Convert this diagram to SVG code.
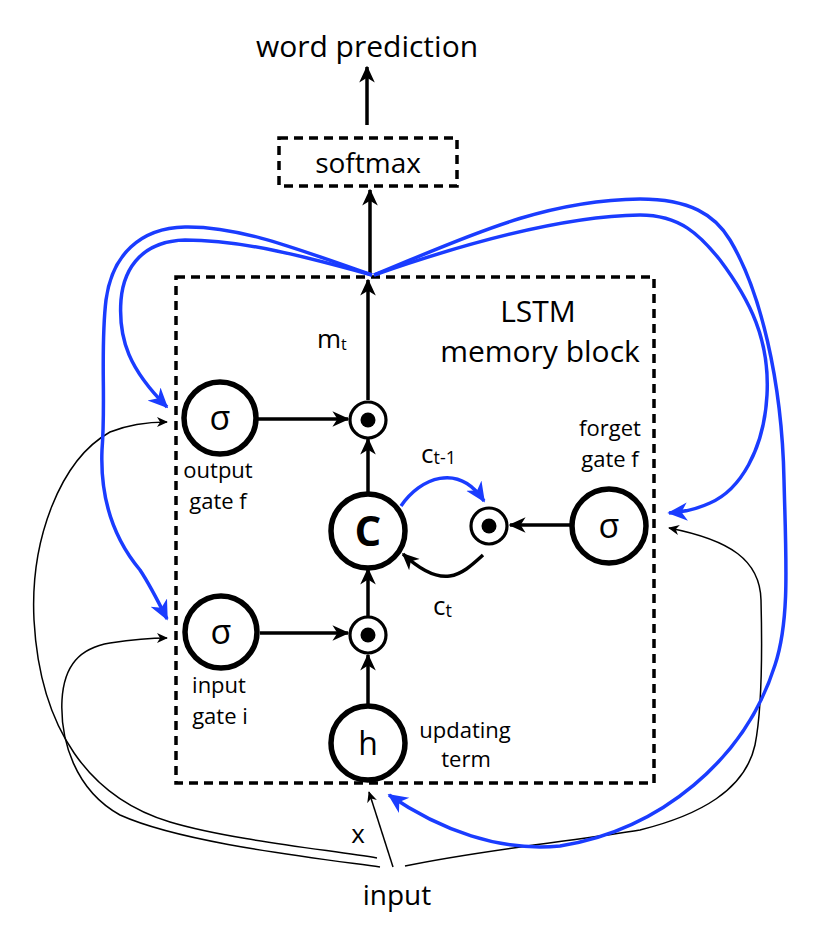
<svg xmlns="http://www.w3.org/2000/svg" width="814" height="930" viewBox="0 0 814 930">
<style>
text{font-family:"Open Sans","Lato","DejaVu Sans",sans-serif;fill:#000}
.dash{fill:none;stroke:#000;stroke-width:3.5;stroke-dasharray:9 6}
.node{fill:#fff;stroke:#000;stroke-width:5.5}
.mul{fill:#fff;stroke:#000;stroke-width:3.2}
.thick{fill:none;stroke:#000;stroke-width:3.5;marker-end:url(#ah)}
.thin{fill:none;stroke:#000;stroke-width:1.5;marker-end:url(#aht)}
.blue{fill:none;stroke:#1a3cff;stroke-width:3.5;marker-end:url(#ahb)}
.lbl{font-size:22px;text-anchor:middle}
</style>
<defs>
<marker id="ah" viewBox="0 0 12 12" refX="11" refY="6" markerWidth="17" markerHeight="17" markerUnits="userSpaceOnUse" orient="auto"><path d="M0,0.5 L12,6 L0,11.5 L3.5,6 z" fill="#000"/></marker>
<marker id="aht" viewBox="0 0 12 12" refX="11" refY="6" markerWidth="11" markerHeight="11" markerUnits="userSpaceOnUse" orient="auto"><path d="M0,0.5 L12,6 L0,11.5 L3.5,6 z" fill="#000"/></marker>
<marker id="ahb" viewBox="0 0 12 12" refX="11" refY="6" markerWidth="20" markerHeight="20" markerUnits="userSpaceOnUse" orient="auto"><path d="M0,0.5 L12,6 L0,11.5 L3.5,6 z" fill="#1a3cff"/></marker>
</defs>

<g id="word-prediction"><text x="367" y="57" font-size="30" text-anchor="middle">word prediction</text></g>
<g id="softmax"><rect class="dash" x="279" y="138" width="178" height="48"/><text x="368" y="173" font-size="28" text-anchor="middle">softmax</text></g>
<g id="lstm-block"><rect class="dash" x="176" y="277" width="478" height="506"/>
<text x="538" y="322" font-size="30" text-anchor="middle">LSTM</text>
<text x="540" y="362" font-size="30" text-anchor="middle">memory block</text></g>

<g id="connectors">
<path class="thick" d="M367 125 V67"/>
<path class="thick" d="M370 275 V190"/>
<path class="thick" d="M368 400 V280"/>
<path class="thick" d="M258 419 H348"/>
<path class="thick" d="M368 493 V439"/>
<path class="thick" d="M368 617 V569"/>
<path class="thick" d="M260 633 H348"/>
<path class="thick" d="M368 706 V655"/>
<path class="thick" d="M570 525 H510"/>
<path class="thin" d="M393 867 L369 792"/>
<path class="blue" d="M401 506 C420 478 458 462 484 501"/>
<path class="thick" d="M483 555 C462 574 444 592 403 554"/>
<path class="thin" d="M377 858 C330 850 230 840 170 822 C90 798 40 730 34 620 C30 540 60 460 110 432 C130 424 150 422 167 422"/>
<path class="thin" d="M380 867 C300 856 180 842 120 815 C75 790 60 740 62 700 C64 665 80 648 110 643 C130 640 150 638 167 638"/>
<path class="thin" d="M405 866 C480 850 580 840 640 830 C700 815 745 790 755 745 C763 705 762 640 761 600 C760 560 730 540 669 528"/>
<path class="blue" d="M372 275 C300 250 240 226 185 227 C140 228 112 255 106 300 C100 350 106 400 102 450 C100 500 115 540 140 570 C150 585 160 605 167 619"/>
<path class="blue" d="M372 275 C310 258 245 240 185 240 C145 241 124 265 121 300 C118 340 130 370 167 407"/>
<path class="blue" d="M374 275 C460 240 540 200 640 199 C690 199 715 215 730 240 C760 290 782 380 784 480 C786 560 790 620 775 665 C745 760 660 830 560 846 C500 852 440 830 389 795"/>
<path class="blue" d="M374 275 C460 245 560 216 640 215 C680 215 700 235 720 260 C750 300 770 340 767 395 C764 450 740 490 710 503 C695 510 683 512 669 513"/>
</g>

<g id="out-gate"><circle class="node" cx="220" cy="418" r="36"/><text x="220" y="430" font-size="34" text-anchor="middle">σ</text>
<text class="lbl" x="218" y="478">output</text><text class="lbl" x="218" y="509">gate f</text></g>
<g id="out-mul"><circle class="mul" cx="368" cy="420" r="18"/><circle cx="368" cy="420" r="7.5"/></g>
<g id="in-gate"><circle class="node" cx="221" cy="632" r="36"/><text x="221" y="644" font-size="34" text-anchor="middle">σ</text>
<text class="lbl" x="219" y="693">input</text><text class="lbl" x="220" y="724">gate i</text></g>
<g id="in-mul"><circle class="mul" cx="368" cy="635" r="18"/><circle cx="368" cy="635" r="7.5"/></g>
<g id="cell"><circle class="node" cx="368" cy="531" r="37"/><text x="368" y="546" font-size="42" font-weight="bold" text-anchor="middle">C</text></g>
<g id="forget-mul"><circle class="mul" cx="489" cy="526" r="18"/><circle cx="489" cy="526" r="7.5"/></g>
<g id="forget-gate"><circle class="node" cx="609" cy="526" r="37"/><text x="609" y="538" font-size="34" text-anchor="middle">σ</text>
<text class="lbl" x="610" y="436">forget</text><text class="lbl" x="610" y="467">gate f</text></g>
<g id="update"><circle class="node" cx="368" cy="743" r="37"/><text x="368" y="755" font-size="32" text-anchor="middle">h</text>
<text class="lbl" x="465" y="738">updating</text><text class="lbl" x="466" y="767">term</text></g>

<g id="labels">
<text x="317" y="348" font-size="26">m<tspan font-size="16" dy="2">t</tspan></text>
<text x="421" y="463" font-size="26">c<tspan font-size="18" dy="1">t-1</tspan></text>
<text x="433" y="615" font-size="26">c<tspan font-size="18" dy="2">t</tspan></text>
<text x="358" y="843" font-size="26" text-anchor="middle">x</text>
<text x="397" y="905" font-size="28" text-anchor="middle">input</text>
</g>
</svg>
